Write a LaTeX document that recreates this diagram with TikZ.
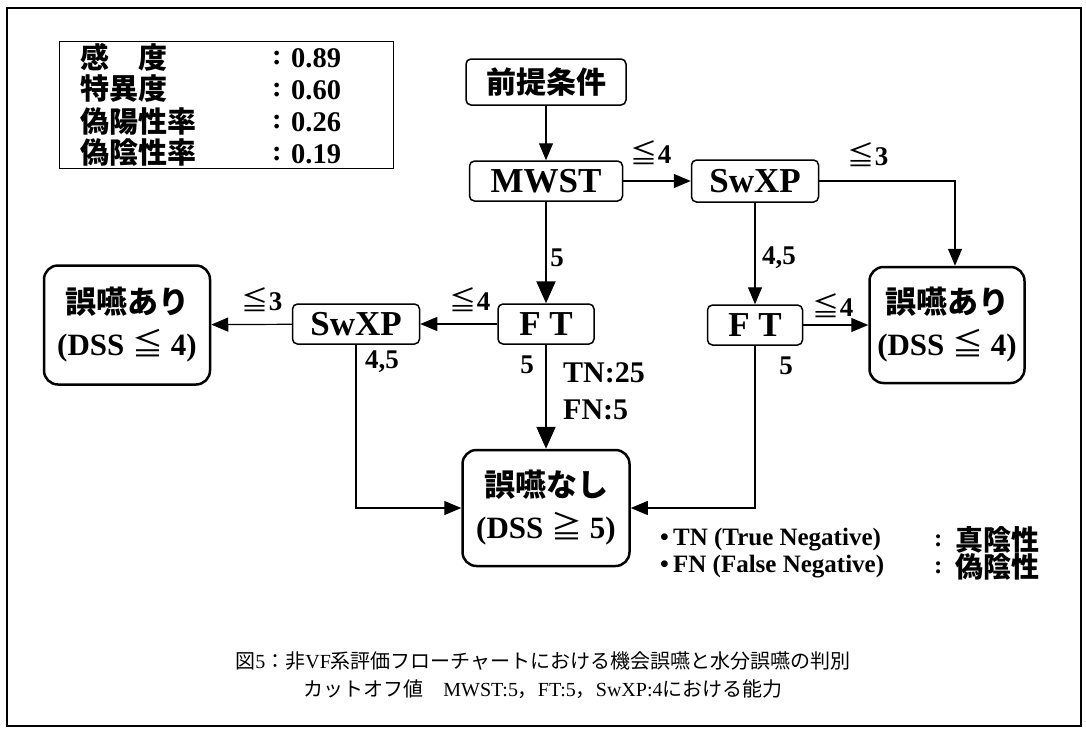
\documentclass[tikz,border=0pt]{standalone}
\usepackage{fontspec}
\setmainfont{Liberation Serif}
\newfontfamily\jp{Noto Sans CJK JP}
\usetikzlibrary{arrows.meta}
\tikzset{
  smallbox/.style={draw, line width=1.5pt, rounded corners=5pt, inner sep=0pt, minimum height=40pt,
    font=\bfseries\fontsize{35}{35}\selectfont},
  bigbox/.style={draw, line width=2.5pt, rounded corners=14pt, inner sep=0pt, align=center,
    font=\bfseries\fontsize{31}{42}\selectfont},
  lab/.style={inner sep=0pt, font=\bfseries\fontsize{27}{27}\selectfont},
  arr/.style={-{Triangle[length=17pt,width=14pt]}, line width=1.2pt},
  marr/.style={-{Triangle[length=22pt,width=19pt]}, line width=2pt},
  inforow/.style={anchor=west, inner sep=0pt, font=\jp\bfseries\fontsize{29}{29}\selectfont},
  infoval/.style={anchor=west, inner sep=0pt, font=\bfseries\fontsize{28.5}{28.5}\selectfont},
  legend/.style={anchor=west, inner sep=0pt, font=\bfseries\fontsize{25}{25}\selectfont},
  legendjp/.style={anchor=west, inner sep=0pt, font=\jp\bfseries\fontsize{28}{28}\selectfont},
  caption/.style={inner sep=0pt, font=\fontsize{20}{20}\selectfont}
}
\begin{document}
\begin{tikzpicture}[x=1pt,y=-1pt]
\useasboundingbox (0,0) rectangle (1086,734);
% outer frame
\draw[line width=2.5pt] (7,8) rectangle (1081,726);
% info box
\draw[line width=1pt] (59,41) rectangle (393,168);
\node[inforow] (l1) at (80,57) {感　度};
\node[inforow] (l2) at (80,89) {特異度};
\node[inforow] (l3) at (80,121) {偽陽性率};
\node[inforow] (l4) at (80,153) {偽陰性率};
\node[infoval] (c1) at (272,58) {:};
\node[infoval] (c2) at (272,90) {:};
\node[infoval] (c3) at (272,122) {:};
\node[infoval] (c4) at (272,154) {:};
\node[infoval] (v1) at (291,58) {0.89};
\node[infoval] (v2) at (291,90) {0.60};
\node[infoval] (v3) at (291,122) {0.26};
\node[infoval] (v4) at (291,154) {0.19};
% flow nodes
\node[smallbox, font=\jp\bfseries\fontsize{30}{30}\selectfont, minimum width=160pt, minimum height=46pt] (pre) at (546,82) {前提条件};
\node[smallbox, minimum width=153pt] (mwst) at (546,181) {MWST};
\node[smallbox, minimum width=127pt, minimum height=42pt] (sw1) at (755,181) {SwXP};
\node[smallbox, minimum width=96pt] (ft1) at (546,324) {F T};
\node[smallbox, minimum width=127pt] (sw2) at (356,324) {SwXP};
\node[smallbox, minimum width=95pt] (ft2) at (755,325) {F T};
\node[bigbox, minimum width=166pt, minimum height=119pt] (ngl) at (127,325) {{\jp 誤嚥あり}\\(DSS {\jp\mdseries ≦} 4)};
\node[bigbox, minimum width=155pt, minimum height=116pt] (ngr) at (947,325) {{\jp 誤嚥あり}\\(DSS {\jp\mdseries ≦} 4)};
\node[bigbox, minimum width=167pt, minimum height=116pt] (ok) at (546,508) {{\jp 誤嚥なし}\\(DSS {\jp\mdseries ≧} 5)};
% connectors
\coordinate (rc) at (955,181);
\draw[arr] (pre) -- (mwst);
\draw[arr] (mwst) -- (sw1);
\draw[arr] (sw1.east) -- (rc) -- (rc |- ngr.north);
\draw[arr] (sw1) -- (ft2);
\draw[marr] (mwst) -- (ft1);
\draw[arr] (ft1) -- (sw2);
\draw[arr] (sw2) -- (ngl);
\draw[arr] (sw2.south) |- (ok.west);
\draw[marr] (ft1) -- (ok);
\draw[arr] (ft2) -- (ngr);
\draw[arr] (ft2.south) |- (ok.east);
% edge labels
\node[lab] (e1) at (651,153) {{\jp\mdseries ≦}4};
\node[lab] (e2) at (868,155) {{\jp\mdseries ≦}3};
\node[lab] (e3) at (779,258) {4,5};
\node[lab] (e4) at (557,258) {5};
\node[lab] (e5) at (470,300) {{\jp\mdseries ≦}4};
\node[lab] (e6) at (262,300) {{\jp\mdseries ≦}3};
\node[lab] (e7) at (382,362) {4,5};
\node[lab] (e8) at (527,365) {5};
\node[lab, anchor=west, font=\bfseries\fontsize{30}{30}\selectfont] (e9) at (563,373) {TN:25};
\node[lab, anchor=west, font=\bfseries\fontsize{30}{30}\selectfont] (e10) at (563,410) {FN:5};
\node[lab] (e11) at (833,306) {{\jp\mdseries ≦}4};
\node[lab] (e12) at (786,366) {5};
% legend
\node[legend] (tn) at (660,540) {•\,TN (True Negative)};
\node[legend] (fn) at (660,567) {•\,FN (False Negative)};
\node[legend] (tnc) at (934,541) {:};
\node[legend] (fnc) at (934,568) {:};
\node[legendjp] (tnj) at (955,540) {真陰性};
\node[legendjp] (fnj) at (955,567) {偽陰性};
% caption
\node[caption] (cap1) at (543,661) {{\jp 図}5{\jp ：非}VF{\jp 系評価フローチャートにおける機会誤嚥と水分誤嚥の判別}};
\node[caption] (cap2) at (543,689) {{\jp カットオフ値}\quad MWST:5{\jp ，}FT:5{\jp ，}SwXP:4{\jp における能力}};
\end{tikzpicture}
\end{document}
